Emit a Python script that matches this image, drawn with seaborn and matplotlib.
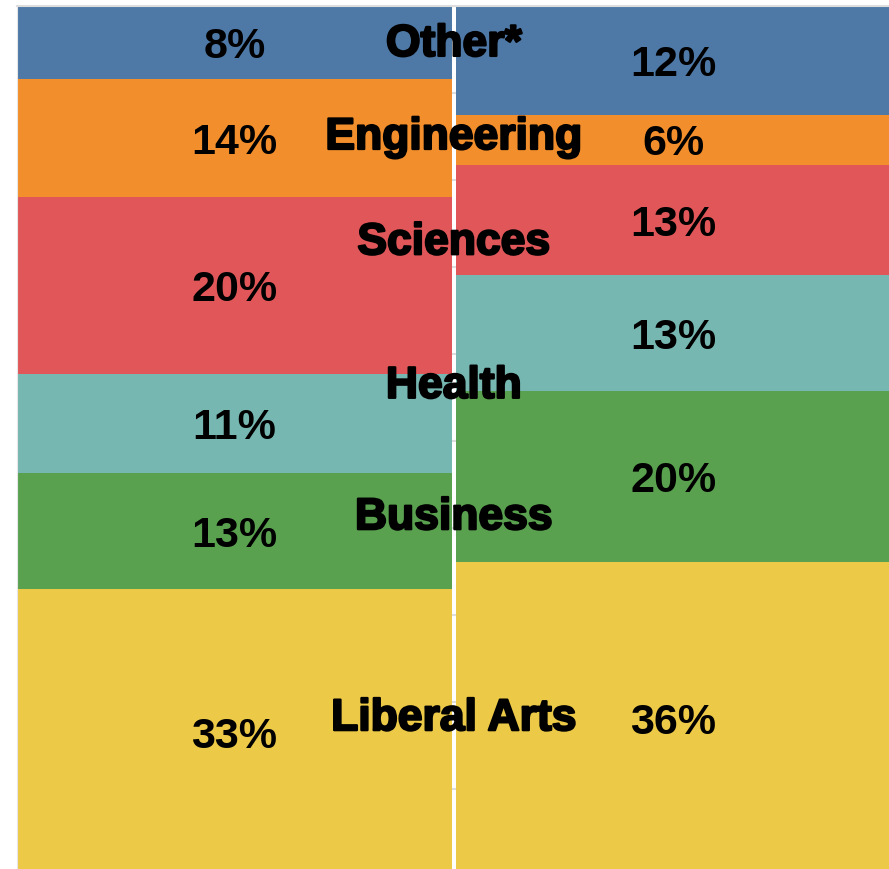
import matplotlib
matplotlib.use("Agg")
import matplotlib.pyplot as plt
import matplotlib.patheffects as pe
import seaborn as sns
import pandas as pd
import numpy as np

# Data (percent of each column, bottom to top)
majors = ['Liberal Arts', 'Business', 'Health', 'Sciences', 'Engineering', 'Other*']
groups = ['A', 'B']
left_pct = [33.0, 13.3, 11.4, 20.3, 13.6, 8.4]
right_pct = [36.1, 19.6, 13.4, 12.6, 5.8, 12.5]
colors = ['#EDC948', '#59A14F', '#76B7B2', '#E15759', '#F28E2B', '#4E79A7']
# vertical spot (in %) of each category name, laid over the middle seam
name_y = [18.6, 41.7, 56.8, 73.3, 85.4, 96.1]

df = pd.DataFrame({'major': majors, 'A': left_pct, 'B': right_pct})
cum = df[groups].cumsum()

sns.set_style('white')
plt.rcParams['font.family'] = ['Liberation Sans', 'DejaVu Sans']

fig = plt.figure(figsize=(8.89, 8.69), dpi=100)
ax = fig.add_axes([17 / 889, -7 / 869, 876 / 889, 870 / 869])

# stacked bars: draw tallest cumulative first, then cover downwards
for i in range(len(majors) - 1, -1, -1):
    d = pd.DataFrame({'group': groups, 'top': cum.iloc[i].values})
    sns.barplot(data=d, x='group', y='top', color=colors[i], width=0.99,
                saturation=1, linewidth=0, edgecolor='none', ax=ax, zorder=2)

ax.set_xlim(-0.495, 1.5)
ax.set_ylim(0, 100)
ax.set_yticks(np.arange(0, 101, 10))
ax.yaxis.grid(True, color='#dddddd', linewidth=1.5, zorder=0)
ax.set_axisbelow(True)
ax.tick_params(axis='y', length=3, width=1.5, color='#dddddd', labelleft=False)
ax.tick_params(axis='x', length=0, labelbottom=False)
ax.set_xlabel('')
ax.set_ylabel('')
for s in ['right', 'bottom']:
    ax.spines[s].set_visible(False)
ax.spines['left'].set_color('#e6e6e6')
ax.spines['top'].set_color('#dddddd')
ax.spines['top'].set_linewidth(1.5)

# percent labels
for j, g in enumerate(groups):
    bottoms = cum[g].values - df[g].values
    for v, b in zip(df[g].values, bottoms):
        ax.text(j, b + v / 2, f'{v:.0f}%', ha='center', va='center_baseline',
                fontsize=31, fontweight='bold', color='black', zorder=5)

# category names on the seam
for name, y in zip(majors, name_y):
    ax.text(0.5, y, name, ha='center', va='center_baseline', fontsize=32,
            fontweight='bold', color='black', zorder=6,
            path_effects=[pe.withStroke(linewidth=1.6, foreground='black')])

fig.savefig('out.png', dpi=100)
